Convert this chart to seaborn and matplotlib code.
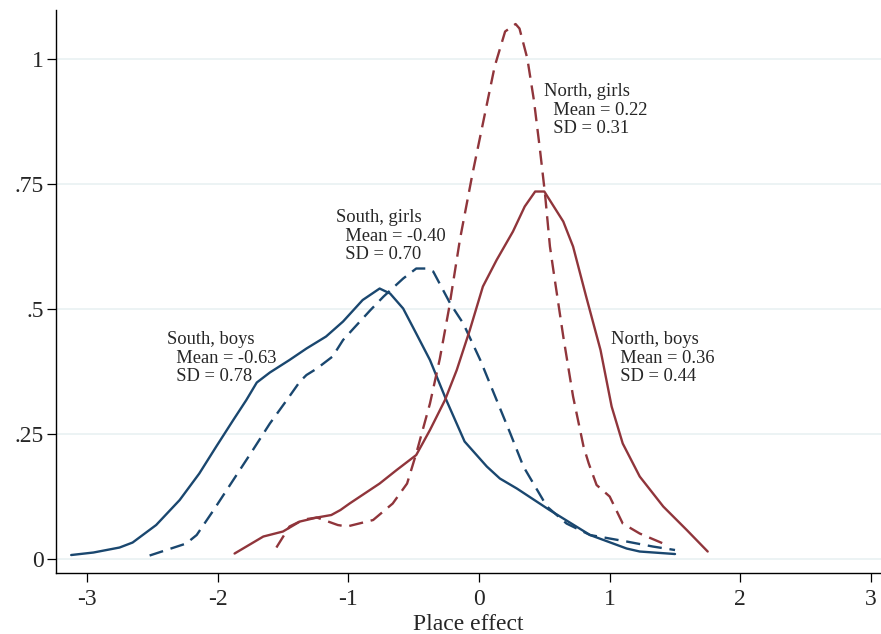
import pandas as pd
import seaborn as sns
import matplotlib
matplotlib.use("Agg")
import matplotlib.pyplot as plt

# density curves
south_boys_x = [-3.12, -2.95, -2.75, -2.65, -2.47, -2.29, -2.14, -2.01, -1.88, -1.78, -1.70, -1.60,
                -1.45, -1.32, -1.17, -1.04, -0.89, -0.76, -0.68, -0.58, -0.48, -0.375, -0.25, -0.11,
                0.06, 0.16, 0.29, 0.54, 0.85, 1.13, 1.23, 1.50]
south_boys_y = [0.008, 0.013, 0.023, 0.033, 0.068, 0.118, 0.171, 0.225, 0.278, 0.318, 0.353, 0.373,
                0.398, 0.421, 0.445, 0.475, 0.518, 0.541, 0.531, 0.501, 0.451, 0.398, 0.318, 0.235,
                0.185, 0.161, 0.141, 0.098, 0.048, 0.021, 0.015, 0.010]

south_girls_x = [-2.52, -2.24, -2.16, -2.03, -1.88, -1.73, -1.60, -1.47, -1.37, -1.32, -1.24, -1.12,
                 -1.04, -0.96, -0.83, -0.73, -0.58, -0.48, -0.40, -0.35, -0.22, -0.12, 0.01, 0.135,
                 0.24, 0.34, 0.52, 0.67, 0.85, 1.13, 1.33, 1.50]
south_girls_y = [0.007, 0.031, 0.048, 0.098, 0.158, 0.218, 0.271, 0.318, 0.355, 0.368, 0.381, 0.405,
                 0.438, 0.461, 0.498, 0.525, 0.561, 0.581, 0.581, 0.575, 0.511, 0.471, 0.398, 0.318,
                 0.251, 0.185, 0.105, 0.071, 0.048, 0.035, 0.025, 0.018]

north_boys_x = [-1.87, -1.65, -1.50, -1.37, -1.24, -1.13, -1.06, -0.99, -0.76, -0.63, -0.48, -0.375,
                -0.26, -0.17, -0.07, 0.03, 0.135, 0.26, 0.35, 0.43, 0.50, 0.645, 0.72, 0.82, 0.93,
                1.015, 1.10, 1.23, 1.41, 1.59, 1.75]
north_boys_y = [0.011, 0.045, 0.055, 0.075, 0.083, 0.088, 0.098, 0.111, 0.151, 0.178, 0.208, 0.258,
                0.318, 0.378, 0.458, 0.545, 0.598, 0.655, 0.705, 0.735, 0.735, 0.675, 0.625, 0.525,
                0.418, 0.305, 0.231, 0.165, 0.105, 0.058, 0.015]

north_girls_x = [-1.55, -1.45, -1.34, -1.24, -1.08, -1.01, -0.81, -0.66, -0.55, -0.48, -0.375, -0.30,
                 -0.23, -0.145, -0.05, 0.03, 0.12, 0.20, 0.28, 0.31, 0.37, 0.42, 0.467, 0.505, 0.543,
                 0.569, 0.645, 0.72, 0.80, 0.84, 0.90, 1.00, 1.10, 1.23, 1.41]
north_girls_y = [0.023, 0.065, 0.079, 0.083, 0.068, 0.065, 0.078, 0.111, 0.151, 0.211, 0.311, 0.400,
                 0.500, 0.640, 0.770, 0.871, 0.985, 1.055, 1.070, 1.061, 1.001, 0.918, 0.818, 0.731,
                 0.625, 0.578, 0.445, 0.325, 0.225, 0.191, 0.148, 0.125, 0.071, 0.051, 0.031]

labels = ["South, boys\n  Mean = -0.63\n  SD = 0.78",
          "South, girls\n  Mean = -0.40\n  SD = 0.70",
          "North, girls\n  Mean = 0.22\n  SD = 0.31",
          "North, boys\n  Mean = 0.36\n  SD = 0.44"]
label_x = [-2.39, -1.095, 0.497, 1.01]
label_y = [0.402, 0.646, 0.898, 0.402]

ytick_vals = [0, 0.25, 0.5, 0.75, 1]
ytick_text = ["0", ".25", ".5", ".75", "1"]
xtick_vals = [-3, -2, -1, 0, 1, 2, 3]
xtick_text = ["-3", "-2", "-1", "0", "1", "2", "3"]

navy = "#1a476f"
maroon = "#90353b"

sns.set_style("white")
plt.rcParams['font.family'] = ['Liberation Serif', 'DejaVu Serif']
plt.rcParams['axes.unicode_minus'] = False

fig = plt.figure(figsize=(8.81, 6.34), dpi=100)
ax = fig.add_axes([0.0636, 0.0957, 0.9364, 0.8885])

for yv in ytick_vals:
    ax.axhline(yv, color="#eaf2f3", lw=1.3, zorder=0)

sns.lineplot(x=south_boys_x, y=south_boys_y, color=navy, lw=1.7, estimator=None, ax=ax)
sns.lineplot(x=south_girls_x, y=south_girls_y, color=navy, lw=1.7, estimator=None, ax=ax,
             dashes=False, linestyle=(0, (6, 3.3)))
sns.lineplot(x=north_boys_x, y=north_boys_y, color=maroon, lw=1.7, estimator=None, ax=ax)
sns.lineplot(x=north_girls_x, y=north_girls_y, color=maroon, lw=1.7, estimator=None, ax=ax,
             dashes=False, linestyle=(0, (6, 3.3)))

for t, lx, ly in zip(labels, label_x, label_y):
    ax.text(lx, ly, t, ha='left', va='center', fontsize=13.3, linespacing=1.08)

ax.set_xlim(-3.236, 3.076)
ax.set_ylim(-0.0286, 1.098)
ax.set_xticks(xtick_vals)
ax.set_xticklabels(xtick_text)
ax.set_yticks(ytick_vals)
ax.set_yticklabels(ytick_text)
ax.tick_params(axis='both', bottom=True, left=True, labelsize=17, length=6.5, width=0.9,
               color='black', direction='out')
ax.tick_params(axis='x', pad=4.5)
ax.tick_params(axis='y', pad=2)
ax.set_xlabel("Place effect", fontsize=17, labelpad=3)
ax.set_ylabel("")

sns.despine(ax=ax, top=True, right=True)
for s in ['left', 'bottom']:
    ax.spines[s].set_color('black')
    ax.spines[s].set_linewidth(1.0)

fig.savefig("out.png", dpi=100)
